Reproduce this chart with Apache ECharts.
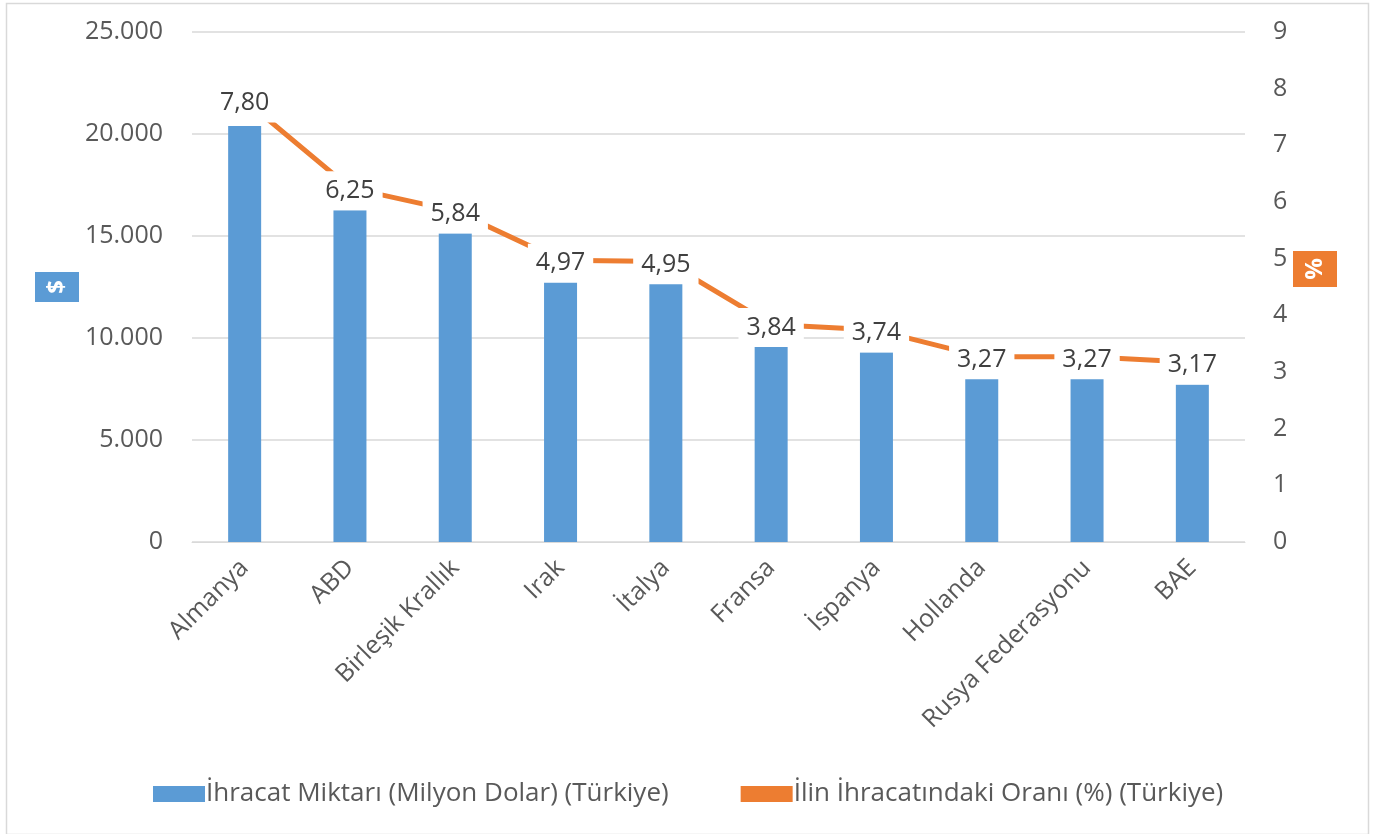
<!DOCTYPE html>
<html>
<head>
<meta charset="utf-8">
<script src="https://cdn.jsdelivr.net/npm/echarts@6/dist/echarts.min.js"></script>
<style>
html,body{margin:0;padding:0;background:#fff;}
#chart{width:1383px;height:834px;}
</style>
</head>
<body>
<div id="chart"></div>
<script>
var categories = ['Almanya','ABD','Birleşik Krallık','Irak','İtalya','Fransa','İspanya','Hollanda','Rusya Federasyonu','BAE'];
var exportValues = [20390, 16260, 15130, 12745, 12630, 9593, 9299, 8025, 8025, 7730];
var shareValues = [7.80, 6.25, 5.84, 4.97, 4.95, 3.84, 3.74, 3.27, 3.27, 3.17];
var leftTicks = [0, 5000, 10000, 15000, 20000, 25000];
var rightTicks = [0,1,2,3,4,5,6,7,8,9];
var seriesNames = ['İhracat Miktarı (Milyon Dolar) (Türkiye)', 'İlin İhracatındaki Oranı (%) (Türkiye)'];

var FONT = '"Open Sans", "Noto Sans", sans-serif';
var chart = echarts.init(document.getElementById('chart'), null, {renderer:'canvas'});

function fmtThousands(v){
  return String(v).replace(/\B(?=(\d{3})+(?!\d))/g, '.');
}

var option = {
  backgroundColor: '#fff',
  animation: false,
  textStyle: {fontFamily: FONT},
  grid: {left: 192, right: 138, top: 32, bottom: 292, containLabel: false},
  legend: {
    bottom: 22,
    left: 148,
    itemGap: 72,
    itemWidth: 52,
    itemHeight: 16,
    textStyle: {fontFamily: FONT, fontSize: 26, color: '#595959', padding:[0,0,0,-4]},
    data: [
      {name: seriesNames[0], icon: 'rect', itemStyle:{color:'#5B9BD5'}},
      {name: seriesNames[1], icon: 'path://M0,0 L52,0 L52,16 L0,16 Z', itemStyle:{color:'#ED7D31', opacity:1}}
    ]
  },
  xAxis: {
    type: 'category',
    data: categories,
    axisLine: {lineStyle: {color: '#D9D9D9', width: 1}},
    axisTick: {show: false},
    axisLabel: {rotate: 45, fontSize: 25, color: '#595959', fontFamily: FONT, margin: 22, interval: 0}
  },
  yAxis: [
    {
      type: 'value', min: leftTicks[0], max: leftTicks[leftTicks.length-1], interval: 5000,
      axisLine: {show: false}, axisTick: {show: false},
      splitLine: {lineStyle: {color: '#D9D9D9', width: 1.5}},
      axisLabel: {fontSize: 25, color: '#595959', fontFamily: FONT, margin: 29, formatter: fmtThousands}
    },
    {
      type: 'value', min: rightTicks[0], max: rightTicks[rightTicks.length-1], interval: 1,
      axisLine: {show: false}, axisTick: {show: false},
      splitLine: {show: false},
      axisLabel: {fontSize: 25, color: '#595959', fontFamily: FONT, margin: 28}
    }
  ],
  series: [
    {
      name: seriesNames[0],
      type: 'bar',
      data: exportValues,
      yAxisIndex: 0,
      barWidth: 33,
      itemStyle: {color: '#5B9BD5'}
    },
    {
      name: seriesNames[1],
      type: 'line',
      data: shareValues,
      yAxisIndex: 1,
      symbol: 'circle',
      symbolSize: 1,
      showSymbol: true,
      lineStyle: {color: '#ED7D31', width: 5},
      itemStyle: {color: '#ED7D31'},
      z: 3,
      label: {
        show: true,
        position: 'inside',
        offset: [0, 3],
        fontSize: 25,
        color: '#404040',
        fontFamily: FONT,
        backgroundColor: '#fff',
        padding: [7, 8],
        formatter: function(p){ return p.value.toFixed(2).replace('.', ','); }
      }
    }
  ],
  graphic: [
    {type:'rect', left: 4, top: 1, shape:{width:1362, height:831}, style:{fill:'none', stroke:'#D9D9D9', lineWidth:1.5}, silent:true},
    {type:'rect', shape:{x:35, y:272, width:44, height:30}, style:{fill:'#5B9BD5'}},
    {type:'text', x:57, y:287, rotation: Math.PI/2, style:{text:'$', fill:'#fff', font:'bold 24px ' + FONT, align:'center', verticalAlign:'middle'}},
    {type:'rect', shape:{x:1293, y:251, width:44, height:36}, style:{fill:'#ED7D31'}},
    {type:'text', x:1315, y:269, rotation: Math.PI/2, style:{text:'%', fill:'#fff', font:'bold 24px ' + FONT, align:'center', verticalAlign:'middle'}}
  ]
};
chart.setOption(option);
</script>
</body>
</html>
